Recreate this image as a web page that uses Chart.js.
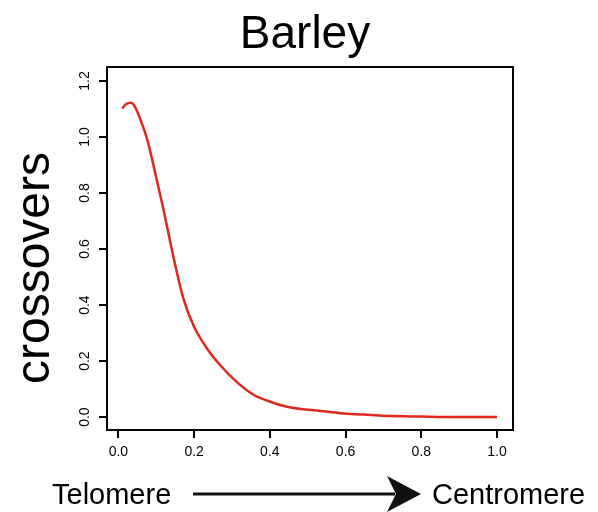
<!DOCTYPE html>
<html>
<head>
<meta charset="utf-8">
<script src="https://cdn.jsdelivr.net/npm/chart.js@4.4.0/dist/chart.umd.min.js"></script>
<style>
html,body{margin:0;padding:0;background:#fff;}
#wrap{width:598px;height:512px;position:relative;}
</style>
</head>
<body>
<div id="wrap"><canvas id="c" width="598" height="512"></canvas></div>
<script>
// ---- data ----
const titleText = "Barley";
const yAxisTitle = "crossovers";
const leftLabel = "Telomere";
const rightLabel = "Centromere";
const positions = [0.010, 0.020, 0.033, 0.045, 0.058, 0.076, 0.093, 0.119, 0.146, 0.172, 0.199, 0.234, 0.269, 0.313, 0.357, 0.401, 0.445, 0.489, 0.533, 0.586, 0.650, 0.700, 0.800, 0.900, 1.000];
const crossovers = [1.102, 1.117, 1.122, 1.105, 1.063, 0.992, 0.897, 0.742, 0.568, 0.422, 0.325, 0.245, 0.185, 0.125, 0.080, 0.055, 0.037, 0.028, 0.022, 0.014, 0.009, 0.005, 0.002, 0.000, 0.000];
const xTicks = [0.0, 0.2, 0.4, 0.6, 0.8, 1.0];
const yTicks = [0.0, 0.2, 0.4, 0.6, 0.8, 1.0, 1.2];

const FONT = "'Liberation Sans', Arial, sans-serif";

const decor = {
  id: 'decor',
  afterDraw(chart) {
    const ctx = chart.ctx;
    const a = chart.chartArea;
    const ys = chart.scales.y;
    ctx.save();
    // box
    ctx.strokeStyle = '#000';
    ctx.lineWidth = 2;
    ctx.strokeRect(a.left, a.top, a.right - a.left, a.bottom - a.top);
    // y tick labels (rotated)
    ctx.fillStyle = '#000';
    ctx.font = "14px " + FONT;
    ctx.textAlign = 'center';
    ctx.textBaseline = 'middle';
    yTicks.forEach(v => {
      const py = ys.getPixelForValue(v);
      ctx.save();
      ctx.translate(85, py);
      ctx.rotate(-Math.PI / 2);
      ctx.fillText(v.toFixed(1), 0, 0);
      ctx.restore();
    });
    // title
    ctx.font = "46px " + FONT;
    ctx.textBaseline = 'alphabetic';
    ctx.fillText(titleText, 305, 48);
    // y axis title
    ctx.save();
    ctx.translate(36, 268);
    ctx.rotate(-Math.PI / 2);
    ctx.font = "48px " + FONT;
    ctx.textBaseline = 'middle';
    ctx.fillText(yAxisTitle, 0, 0);
    ctx.restore();
    // bottom labels
    ctx.font = "29px " + FONT;
    ctx.textBaseline = 'alphabetic';
    ctx.textAlign = 'left';
    ctx.fillText(leftLabel, 52, 504);
    ctx.fillText(rightLabel, 432, 504);
    // arrow
    ctx.strokeStyle = '#111';
    ctx.lineWidth = 3;
    ctx.beginPath();
    ctx.moveTo(193, 494);
    ctx.lineTo(395, 494);
    ctx.stroke();
    ctx.fillStyle = '#111';
    ctx.beginPath();
    ctx.moveTo(421, 494);
    ctx.lineTo(387, 476);
    ctx.lineTo(396, 494);
    ctx.lineTo(387, 512);
    ctx.closePath();
    ctx.fill();
    ctx.restore();
  }
};

new Chart(document.getElementById('c'), {
  type: 'line',
  data: {
    datasets: [{
      data: positions.map((x, i) => ({x: x, y: crossovers[i]})),
      borderColor: '#e0281e',
      borderWidth: 2.5,
      pointRadius: 0,
      fill: false,
      cubicInterpolationMode: 'monotone'
    }]
  },
  options: {
    responsive: false,
    animation: false,
    events: [],
    layout: { padding: { top: 67, right: 85, left: 0, bottom: 0 } },
    plugins: { legend: { display: false }, tooltip: { enabled: false }, title: { display: false } },
    scales: {
      x: {
        type: 'linear',
        min: -0.03,
        max: 1.042,
        afterBuildTicks: s => { s.ticks = xTicks.map(v => ({value: v})); },
        afterFit: s => { s.height = 82; },
        border: { display: false },
        grid: { drawOnChartArea: false, drawTicks: true, tickLength: 8, color: '#000', lineWidth: 2 },
        ticks: {
          autoSkip: false, maxRotation: 0, minRotation: 0,
          color: '#000', padding: 6,
          font: { family: FONT, size: 14 },
          callback: v => Number(v).toFixed(1)
        }
      },
      y: {
        type: 'linear',
        min: -0.046,
        max: 1.25,
        afterBuildTicks: s => { s.ticks = yTicks.map(v => ({value: v})); },
        afterFit: s => { s.width = 107; },
        border: { display: false },
        grid: { drawOnChartArea: false, drawTicks: true, tickLength: 8, color: '#000', lineWidth: 2 },
        ticks: { display: false }
      }
    }
  },
  plugins: [decor]
});
</script>
</body>
</html>
